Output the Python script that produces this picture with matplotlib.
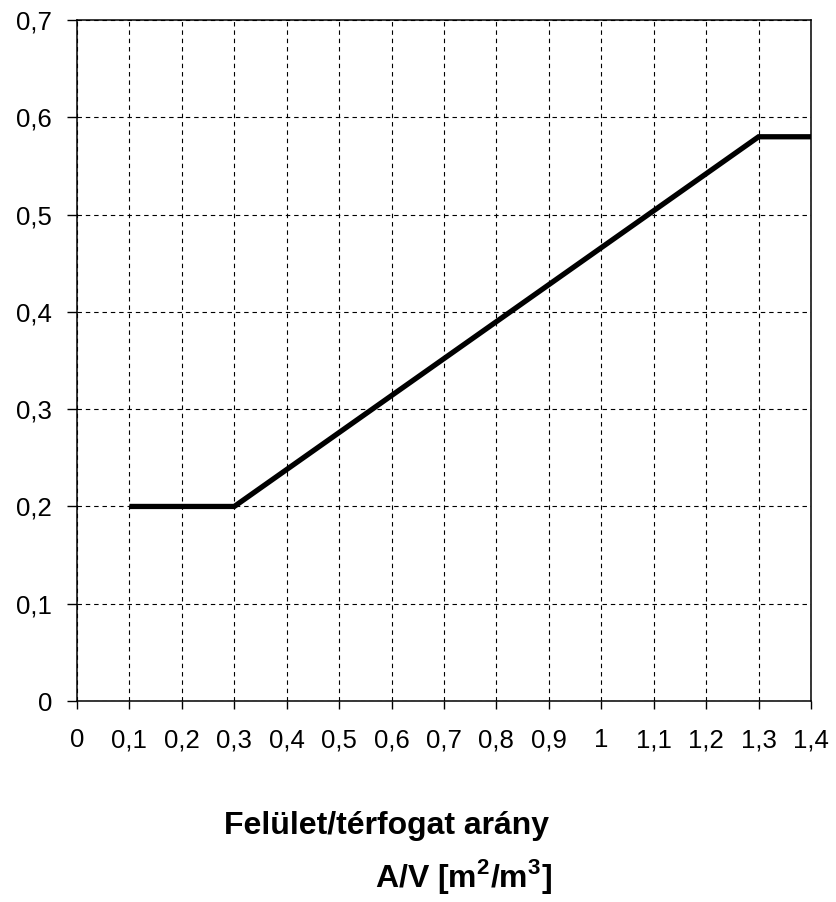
import matplotlib
matplotlib.use("Agg")
import matplotlib.pyplot as plt

plt.rcParams['font.family'] = ['Liberation Sans', 'DejaVu Sans']
plt.rcParams['mathtext.fontset'] = 'custom'
plt.rcParams['mathtext.bf'] = 'Liberation Sans:bold'
plt.rcParams['mathtext.rm'] = 'Liberation Sans:bold'

# Data
x_vals = [0.1, 0.3, 1.3, 1.4]
y_vals = [0.2, 0.2, 0.58, 0.58]
x_ticks = [0, 0.1, 0.2, 0.3, 0.4, 0.5, 0.6, 0.7, 0.8, 0.9, 1.0, 1.1, 1.2, 1.3, 1.4]
x_ticklabels = ["0", "0,1", "0,2", "0,3", "0,4", "0,5", "0,6", "0,7", "0,8", "0,9", "1", "1,1", "1,2", "1,3", "1,4"]
y_ticks = [0, 0.1, 0.2, 0.3, 0.4, 0.5, 0.6, 0.7]
y_ticklabels = ["0", "0,1", "0,2", "0,3", "0,4", "0,5", "0,6", "0,7"]
xlabel1 = "Felület/térfogat arány"
xlabel2 = r"A/V [m$^\mathbf{2}$/m$^\mathbf{3}$]"

fig = plt.figure(figsize=(8.36, 9.02), dpi=100)
ax = fig.add_axes([0.0921, 0.2228, 0.878, 0.755])

ax.plot(x_vals, y_vals, color='black', linewidth=3.8, solid_capstyle='butt', solid_joinstyle='miter', zorder=3)

ax.set_xlim(0, 1.4)
ax.set_ylim(0, 0.7)
ax.set_xticks(x_ticks)
ax.set_xticklabels(x_ticklabels)
ax.set_yticks(y_ticks)
ax.set_yticklabels(y_ticklabels)
ax.tick_params(axis='both', direction='out', width=1, color='black', labelsize=18.5)
ax.tick_params(axis='x', length=5.5, pad=14)
ax.tick_params(axis='y', length=7, pad=11)

ax.grid(True, color='black', linestyle=(0, (4, 3.5)), linewidth=0.8)
for s in ax.spines.values():
    s.set_color('black')
    s.set_linewidth(1.1)

fig.text(387 / 836, 1 - 826 / 902, xlabel1, ha='center', va='center', fontsize=23, fontweight='bold')
fig.text(463 / 836, 1 - 877 / 902, xlabel2, ha='center', va='center', fontsize=23, fontweight='bold')

fig.savefig("out.png", dpi=100)
